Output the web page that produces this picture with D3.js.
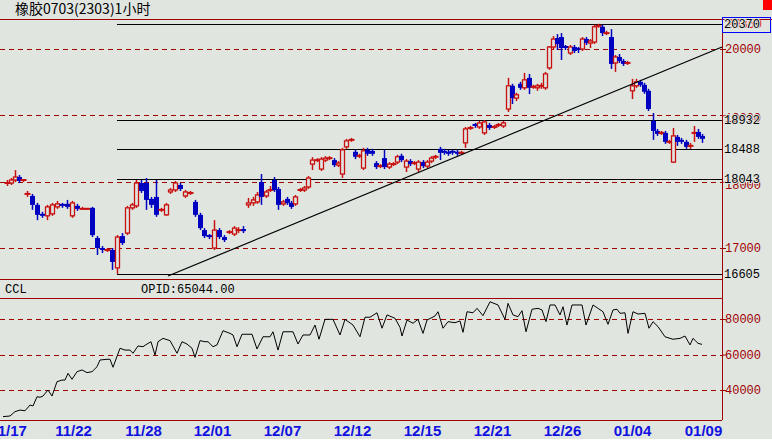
<!DOCTYPE html>
<html><head><meta charset="utf-8">
<script src="https://cdn.jsdelivr.net/npm/d3@7"></script>
<style>body{margin:0;background:#e0e5e0;overflow:hidden}svg{display:block}</style>
</head><body><div id="chart"></div>
<script>
const title = "橡胶0703(2303)1小时";
// OHLC per hourly bar
const opens = [17980,17980,18025,18070,18010,17815,17785,17650,17515,17485,17515,17620,17650,17665,17485,17635,17590,17590,17605,17150,17000,16970,16970,16700,17180,17225,17605,17635,17980,17980,17740,17770,17575,17500,17845,17875,17950,17785,17830,17695,17500,17270,17180,17000,17270,17165,17240,17210,17270,17285,17650,17680,17695,17995,17785,17875,18025,17890,17665,17740,17680,17665,17875,17875,17920,18265,18325,18190,18325,18355,18325,18250,18115,18525,18630,18450,18390,18205,18480,18465,18280,18220,18355,18220,18265,18295,18390,18220,18310,18280,18190,18295,18235,18310,18355,18495,18465,18450,18450,18450,18435,18585,18795,18855,18825,18735,18855,18825,18855,18840,19095,19445,19260,19475,19415,19565,19430,19415,19445,19415,19715,20030,20165,20180,20030,19940,20030,20000,20000,20150,20090,20105,20350,20335,20240,20180,19790,19880,19820,19790,19370,19445,19505,19460,19370,18915,18765,18735,18735,18600,18295,18675,18630,18600,18540,18735,18750,18690];
const closes = [17980,18025,18070,18010,18025,17815,17650,17500,17485,17620,17650,17665,17635,17620,17680,17590,17590,17590,17195,17000,16970,16970,16790,17165,17075,17605,17650,17980,17860,17725,17650,17500,17575,17650,17875,17980,17890,17845,17830,17500,17300,17180,17165,17270,17165,17120,17240,17300,17270,17255,17680,17725,17800,17770,17845,17875,17875,17650,17695,17680,17620,17770,17875,17905,18055,18325,18325,18340,18355,18355,18250,18280,18480,18615,18630,18375,18390,18465,18420,18420,18220,18235,18220,18265,18265,18375,18325,18310,18265,18280,18295,18235,18295,18355,18375,18435,18435,18420,18435,18420,18435,18795,18810,18840,18885,18900,18810,18825,18855,18885,19445,19260,19310,19415,19535,19415,19430,19445,19445,19625,20030,20150,20075,20015,20015,20030,19970,19985,20150,20090,20120,20335,20350,20240,20240,19775,19880,19820,19775,19790,19445,19505,19460,19355,19095,18765,18720,18735,18600,18600,18690,18600,18600,18525,18540,18735,18675,18645];
const highs = [18025,18055,18175,18100,18040,17860,17815,17680,17545,17650,17680,17710,17680,17725,17710,17665,17620,17605,17620,17180,17030,17000,17000,17195,17225,17635,17680,18025,18025,18055,17770,18025,17605,17680,17905,18010,17980,17875,17860,17725,17530,17300,17210,17420,17300,17195,17270,17330,17315,17330,17755,17770,17845,18115,17875,17935,18070,17920,17725,17770,17710,17800,17905,17935,18085,18370,18355,18370,18385,18385,18355,18310,18510,18645,18660,18480,18420,18510,18510,18495,18310,18265,18480,18295,18295,18405,18420,18340,18340,18310,18325,18325,18325,18385,18405,18525,18495,18480,18480,18480,18465,18825,18840,18885,18915,18930,18885,18855,18885,18915,19565,19475,19340,19505,19640,19625,19460,19475,19490,19655,20045,20195,20225,20240,20060,20060,20060,20030,20180,20180,20150,20365,20380,20365,20275,20300,19910,19925,19850,19820,19550,19550,19535,19490,19400,19035,18795,18765,18765,18630,18810,18705,18660,18630,18585,18840,18795,18720];
const lows = [17935,17950,17995,17980,17995,17770,17575,17420,17455,17420,17485,17590,17605,17590,17455,17560,17575,17575,17165,16895,16925,16940,16670,16610,17045,17195,17575,17605,17830,17575,17605,17470,17545,17485,17815,17845,17860,17755,17800,17470,17270,17150,17135,16970,17135,17090,17210,17180,17225,17225,17605,17635,17665,17650,17755,17845,17845,17575,17635,17650,17590,17635,17845,17845,17890,18175,18295,18160,18295,18325,18220,18220,18055,18495,18600,18340,18355,18175,18390,18390,18190,18205,18190,18190,18235,18265,18295,18145,18235,18250,18145,18205,18205,18280,18340,18325,18405,18390,18405,18390,18405,18510,18780,18810,18795,18705,18780,18795,18825,18810,19050,19170,19215,19385,19385,19320,19400,19370,19400,19385,19685,20000,19985,19835,19985,19910,19940,19940,19970,20060,20015,20075,20320,20195,20210,19700,19655,19790,19745,19760,19245,19415,19430,19325,19065,18630,18690,18705,18570,18570,18280,18540,18570,18495,18495,18600,18645,18585];
// bar index -> time anchors (session gaps)
const anchorIdx = [0, 5, 23, 51, 101, 110, 139, 140, 157];
const anchorT = [4, 24, 114, 250, 462, 505, 624, 629, 699];
// CCL: [time, value]
const cclT = [0,7,12,17,22,27,30,34,37,40,45,49,54,59,62,65,69,74,79,84,89,94,97,104,107,110,117,122,127,130,135,140,144,148,152,155,160,167,174,179,184,189,192,197,202,205,210,214,220,227,230,234,239,249,254,260,267,270,275,280,290,295,300,307,312,316,322,330,337,342,350,357,362,367,374,379,384,392,397,399,404,410,415,420,424,432,435,440,445,452,457,460,464,470,474,480,487,495,502,505,510,515,519,523,529,535,539,543,547,552,557,560,564,569,579,583,590,595,600,605,610,614,617,622,625,630,635,642,646,650,655,662,667,670,677,682,687,690,695,699];
const cclV = [25000,25350,27800,28700,28300,31550,31000,36200,35900,36600,40000,36600,44700,45600,45600,49400,46000,50300,51300,49800,50300,53100,56900,57300,57300,52800,63500,62500,62500,60700,64800,64400,65900,67200,59700,67200,69100,67800,60700,67200,65900,63500,58400,67800,67200,67200,64400,65400,73400,71900,71000,64400,71400,71400,63100,70000,70000,72800,62500,72800,72800,65900,71000,71000,76600,68600,79800,79800,71000,79800,76600,70000,81000,81000,83500,74800,82300,80400,75300,70400,79400,77600,79800,71900,79400,81700,84100,74800,78500,77900,78900,72500,84100,83500,86000,81900,89700,87900,79800,88800,82300,81300,84700,72800,85500,86000,85100,78500,87900,87900,82300,86900,76600,87900,87900,76600,87900,86000,84100,77000,85100,85500,83200,83500,71900,84100,82800,83200,74800,78500,75700,70000,69100,68600,69100,70400,65400,69100,66300,65700];
const dashLevels = [20000, 19000, 18000, 17000];
const priceTicks = [20000, 17000];
const hiddenTicks = [19000, 18000];
const levels = [20370, 18932, 18488, 18043, 16605];
const trend = [[165, 16578], [719, 20031]];
const cclTicks = [80000, 60000, 40000];
const dateT = [5, 70, 140, 209, 279, 349, 419, 489, 559, 629, 700];
const dateLabels = ["11/17","11/22","11/28","12/01","12/07","12/12","12/15","12/21","12/26","01/04","01/09"];
const opid = "OPID:65044.00";

const W = 772, H = 442, axisX = 722;
const red = "#a00000", cUp = "#c81010", cDn = "#0000c0";
const svg = d3.select("#chart").append("svg").attr("width", W).attr("height", H);
svg.append("rect").attr("width", W).attr("height", H).attr("fill", "#e0e5e0");

const x = d3.scaleLinear().domain([0, 700]).range([3, 703]);
const barTime = d3.scaleLinear().domain(anchorIdx).range(anchorT);
const y = d3.scaleLinear().domain([17000, 20000]).range([248, 49]);
const yc = d3.scaleLinear().domain([40000, 80000]).range([390, 319]);
const mono = "'Liberation Mono', monospace";

// title
svg.append("text").attr("x", 15).attr("y", 14).attr("font-family", "'Noto Sans CJK SC'")
  .attr("font-size", 14).attr("fill", "#000").text(title);

// frame lines
[19, 279, 298, 420].forEach(v => svg.append("line").attr("x1", 0).attr("x2", v === 19 ? W : axisX)
  .attr("y1", v + 0.5).attr("y2", v + 0.5).attr("stroke", red));
svg.append("line").attr("x1", axisX + 0.5).attr("x2", axisX + 0.5).attr("y1", 19).attr("y2", 420).attr("stroke", red);
svg.append("rect").attr("x", 763).attr("y", 0).attr("width", 9).attr("height", 10).attr("fill", "#ff0000");

// dashed price levels
svg.append("g").selectAll("line").data(dashLevels).join("line")
  .attr("x1", 0).attr("x2", axisX).attr("y1", d => Math.round(y(d)) + 0.5).attr("y2", d => Math.round(y(d)) + 0.5)
  .attr("stroke", red).attr("stroke-dasharray", "5,4");
// solid levels
svg.append("g").selectAll("line").data(levels).join("line")
  .attr("x1", 117).attr("x2", axisX).attr("y1", d => Math.round(y(d)) + 0.5).attr("y2", d => Math.round(y(d)) + 0.5)
  .attr("stroke", "#000").attr("stroke-width", 1.2);

// right price axis
const ax = svg.append("g").attr("transform", `translate(${axisX},0)`)
  .call(d3.axisRight(y).tickValues(priceTicks.concat(hiddenTicks)).tickSize(4).tickFormat(d3.format("d")));
ax.select(".domain").remove();
ax.selectAll("line").attr("stroke", red);
ax.selectAll("text").attr("fill", red).attr("font-family", mono).attr("font-size", 12).attr("x", 3)
  .attr("dy", d => hiddenTicks.includes(d) ? "0.55em" : "0.32em");
svg.append("text").attr("x", 726).attr("y", y(20370) + 4).attr("fill", "#e00000").attr("font-family", mono)
  .attr("font-size", 12).text("20350");
svg.append("rect").attr("x", 722.5).attr("y", 17.5).attr("width", 48).attr("height", 15).attr("fill", "none").attr("stroke", "#0000ff");
svg.append("g").selectAll("text").data(levels).join("text")
  .attr("x", 724).attr("y", d => y(d) + 4).attr("font-family", mono).attr("font-size", 12).attr("fill", "#000")
  .attr("paint-order", "stroke").attr("stroke", "#e0e5e0").attr("stroke-width", 2).text(d => d);

// candles
const g = svg.append("g");
opens.forEach((o, i) => {
  const c = closes[i], up = c >= o, cx = Math.round(x(barTime(i))) + 0.5;
  const col = up ? cUp : cDn;
  g.append("line").attr("x1", cx).attr("x2", cx).attr("y1", y(highs[i])).attr("y2", y(lows[i])).attr("stroke", col).attr("stroke-width", 1.5);
  const top = y(Math.max(o, c)), bot = y(Math.min(o, c));
  if (bot - top < 1.5) {
    g.append("line").attr("x1", cx - 3).attr("x2", cx + 3).attr("y1", top).attr("y2", top).attr("stroke", col).attr("stroke-width", 2);
  } else if (up) {
    g.append("rect").attr("x", cx - 2).attr("y", top).attr("width", 4).attr("height", bot - top)
      .attr("fill", "#e0e5e0").attr("stroke", col).attr("stroke-width", 1.3);
  } else {
    g.append("rect").attr("x", cx - 2.5).attr("y", top).attr("width", 5).attr("height", bot - top).attr("fill", col);
  }
});

// trend line
svg.append("line").attr("x1", x(trend[0][0])).attr("y1", y(trend[0][1])).attr("x2", x(trend[1][0])).attr("y2", y(trend[1][1]))
  .attr("stroke", "#000").attr("stroke-width", 1.2);

// CCL panel
svg.append("text").attr("x", 5).attr("y", 293).attr("font-family", mono).attr("font-size", 12).text("CCL");
svg.append("text").attr("x", 141).attr("y", 293).attr("font-family", mono).attr("font-size", 12).text(opid);
svg.append("g").selectAll("line").data(cclTicks).join("line")
  .attr("x1", 0).attr("x2", axisX).attr("y1", d => Math.round(yc(d)) + 0.5).attr("y2", d => Math.round(yc(d)) + 0.5)
  .attr("stroke", red).attr("stroke-dasharray", "5,4");
const ac = svg.append("g").attr("transform", `translate(${axisX},0)`)
  .call(d3.axisRight(yc).tickValues(cclTicks).tickSize(4).tickFormat(d3.format("d")));
ac.select(".domain").remove();
ac.selectAll("line").attr("stroke", red);
ac.selectAll("text").attr("fill", red).attr("font-family", mono).attr("font-size", 12).attr("x", 3);
svg.append("path").datum(cclT.map((t, i) => [t, cclV[i]]))
  .attr("d", d3.line().x(d => x(d[0])).y(d => yc(d[1])))
  .attr("fill", "none").attr("stroke", "#000").attr("stroke-width", 1);

// date axis
const ad = svg.append("g").attr("transform", "translate(0,420)")
  .call(d3.axisBottom(x).tickValues(dateT).tickSize(0).tickFormat((d, i) => dateLabels[i]));
ad.select(".domain").remove();
ad.selectAll("text").attr("fill", "#1010e0").attr("font-family", "'Liberation Sans', sans-serif")
  .attr("font-weight", "bold").attr("font-size", 15).attr("dy", "0.85em");
svg.append("rect").attr("x", 0).attr("y", 439).attr("width", W).attr("height", 3).attr("fill", "#fff");
</script></body></html>
